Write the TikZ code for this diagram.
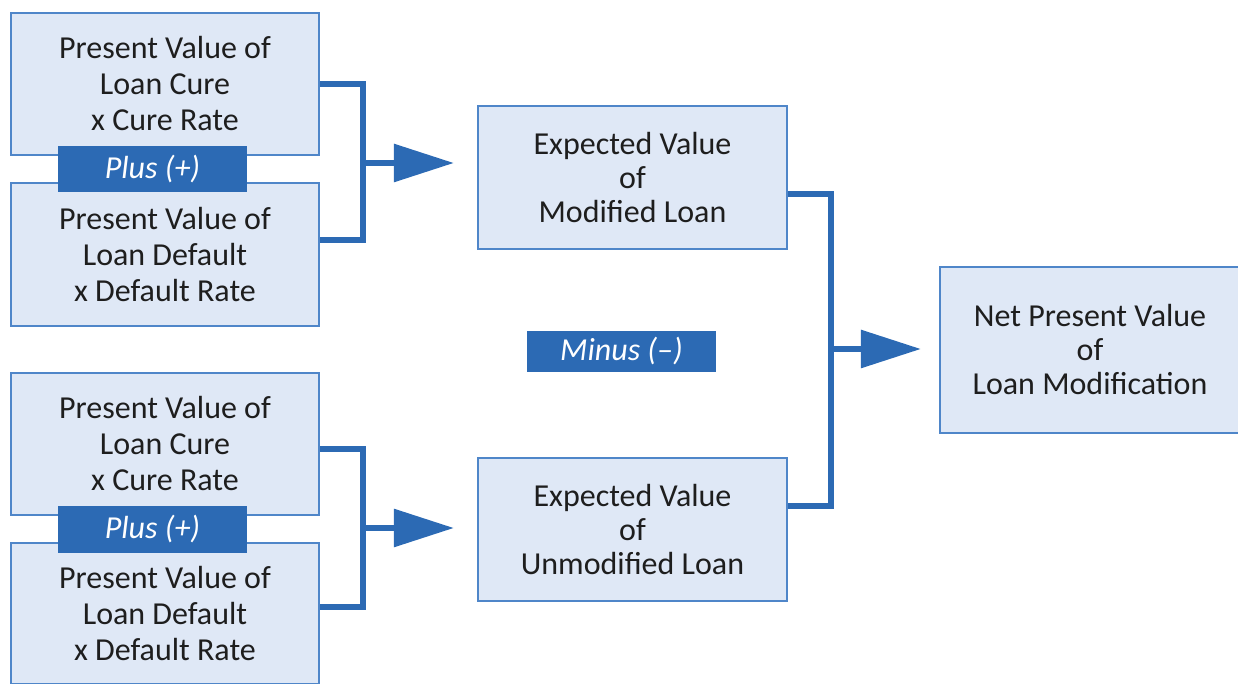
\documentclass[tikz,border=0pt]{standalone}
\usepackage{fontspec}
\setmainfont{Carlito}
\usetikzlibrary{arrows.meta}
\definecolor{boxfill}{HTML}{DFE8F6}
\definecolor{boxline}{HTML}{4F86C9}
\definecolor{dblue}{HTML}{2C6AB4}
\definecolor{txt}{HTML}{1E1E1E}
\begin{document}
\begin{tikzpicture}[x=0.5pt,y=-0.5pt,
  box/.style={draw=boxline,line width=1.1pt,fill=boxfill,inner sep=0pt,align=center,text=txt,font=\fontsize{16}{18}\selectfont},
  midbox/.style={box,font=\fontsize{16}{17}\selectfont},
  oplabel/.style={fill=dblue,draw=none,text=white,font=\fontsize{16}{18}\selectfont\itshape,inner sep=0pt},
  conn/.style={draw=dblue,line width=3pt,line join=miter},
  arr/.style={conn,-{Triangle[length=30pt,width=18.5pt]}}]
\useasboundingbox (0,0) rectangle (1238,684);

% top-left group
\node[box,minimum width=154pt,minimum height=71pt] (A1) at (165,84) {Present Value of\\Loan Cure\\x Cure Rate};
\node[box,minimum width=154pt,minimum height=71.5pt] (A2) at (165,254.5) {Present Value of\\Loan Default\\x Default Rate};
\node[oplabel,minimum width=94.5pt,minimum height=23pt] (P1) at (152.5,169) {\raisebox{-1pt}{Plus (+)}};

% bottom-left group
\node[box,minimum width=154pt,minimum height=71pt] (C1) at (165,444) {Present Value of\\Loan Cure\\x Cure Rate};
\node[box,minimum width=154pt,minimum height=70.5pt] (C2) at (165,613.5) {Present Value of\\Loan Default\\x Default Rate};
\node[oplabel,minimum width=94.5pt,minimum height=23.5pt] (P2) at (152.5,529.5) {\raisebox{-1pt}{Plus (+)}};

% middle boxes
\node[midbox,minimum width=154.5pt,minimum height=71.5pt] (B1) at (632.5,177.5) {Expected Value\\of\\Modified Loan};
\node[midbox,minimum width=154.5pt,minimum height=71.5pt] (B2) at (632.5,529.5) {Expected Value\\of\\Unmodified Loan};
\node[oplabel,minimum width=94.5pt,minimum height=20.5pt] (M) at (621.5,351.5) {Minus (–)};

% result
\node[midbox,minimum width=150pt,minimum height=83pt] (N) at (1090,350) {Net Present Value\\of\\Loan Modification};

% top bracket
\coordinate (a1) at (363,84);
\coordinate (a2) at (363,240);
\coordinate (am) at (363,163);
\draw[conn] (a1 -| A1.east) -- (a1) -- (a2) -- (a2 -| A2.east);
\draw[arr,shorten >=11.5pt] (am) -- (am -| B1.west);

% bottom bracket
\coordinate (c1) at (363,449);
\coordinate (c2) at (363,607);
\coordinate (cm) at (363,528);
\draw[conn] (c1 -| C1.east) -- (c1) -- (c2) -- (c2 -| C2.east);
\draw[arr,shorten >=11.5pt] (cm) -- (cm -| B2.west);

% right bracket
\coordinate (r1) at (831,194);
\coordinate (r2) at (831,506);
\coordinate (rm) at (831,349);
\draw[conn] (r1 -| B1.east) -- (r1) -- (r2) -- (r2 -| B2.east);
\draw[arr,shorten >=9pt] (rm) -- (rm -| N.west);
\end{tikzpicture}
\end{document}
